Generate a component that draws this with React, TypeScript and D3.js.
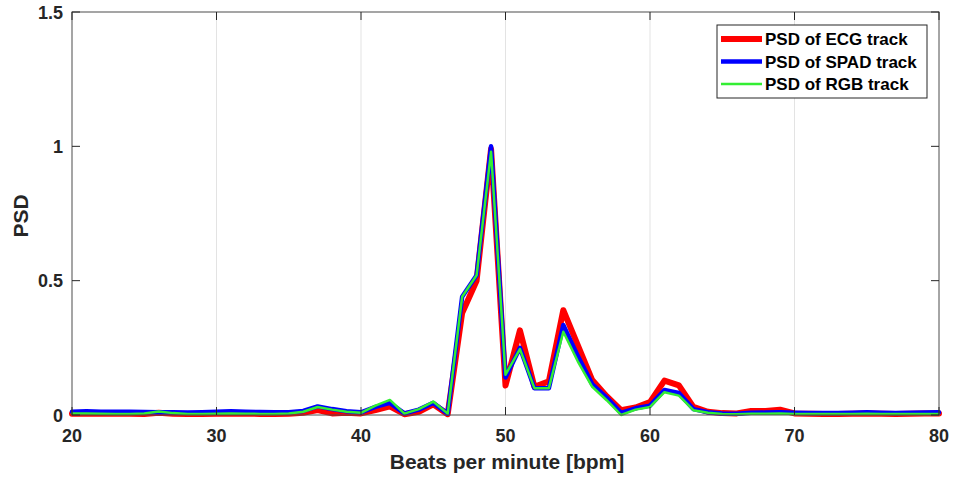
import React from "react";
import * as d3 from "d3";

const bpm = d3.range(20, 81);
const ecg = [0.005,0.006,0.005,0.005,0.005,0.004,0.008,0.005,0.004,0.004,0.005,0.006,0.005,0.004,0.004,0.005,0.008,0.018,0.006,0.008,0.006,0.018,0.032,0.003,0.012,0.04,0.003,0.38,0.5,0.99,0.11,0.315,0.105,0.125,0.39,0.26,0.13,0.07,0.018,0.028,0.048,0.128,0.11,0.03,0.012,0.007,0.006,0.015,0.015,0.02,0.006,0.005,0.004,0.004,0.005,0.006,0.005,0.004,0.005,0.006,0.006];
const spad = [0.012,0.014,0.012,0.012,0.012,0.011,0.01,0.01,0.009,0.01,0.012,0.014,0.012,0.011,0.01,0.01,0.015,0.032,0.022,0.014,0.01,0.03,0.045,0.006,0.02,0.045,0.005,0.44,0.52,1.0,0.14,0.25,0.1,0.1,0.335,0.22,0.115,0.065,0.008,0.025,0.035,0.093,0.082,0.022,0.01,0.006,0.005,0.008,0.009,0.01,0.008,0.007,0.007,0.007,0.008,0.01,0.008,0.007,0.008,0.009,0.01];
const rgb = [0.006,0.006,0.005,0.004,0.004,0.006,0.013,0.007,0.004,0.004,0.005,0.006,0.005,0.004,0.004,0.006,0.012,0.03,0.02,0.012,0.008,0.035,0.056,0.005,0.022,0.05,0.005,0.44,0.52,0.98,0.15,0.245,0.1,0.1,0.31,0.2,0.105,0.055,0.0,0.02,0.03,0.085,0.072,0.018,0.008,0.004,0.003,0.005,0.005,0.006,0.004,0.004,0.004,0.004,0.004,0.005,0.004,0.004,0.004,0.004,0.004];
const xTicks = [20, 30, 40, 50, 60, 70, 80];
const yTicks = [0, 0.5, 1, 1.5];
const seriesNames = ["PSD of ECG track", "PSD of SPAD track", "PSD of RGB track"];
const seriesColors = ["#ff0000", "#0000ff", "#33ee33"];
const seriesWidths = [6, 4.5, 2.5];

export default function App() {
  const W = 954, H = 479;
  const L = 72, R = 939, T = 12, B = 415;
  const x = d3.scaleLinear().domain([20, 80]).range([L, R]);
  const y = d3.scaleLinear().domain([0, 1.5]).range([B, T]);
  const all = [ecg, spad, rgb];
  const line = (vals: number[]) =>
    d3.line<number>().x((_, i) => x(bpm[i])).y((d) => y(d))(vals) || "";
  const font = "'Liberation Sans', Arial, sans-serif";
  const axisColor = "#262626";
  return (
    <svg width={W} height={H} style={{ position: "absolute", left: 0, top: 0, background: "#fff" }}>
      <rect x={0} y={0} width={W} height={H} fill="#fff" />
      {xTicks.slice(1, -1).map((t) => (
        <line key={t} x1={x(t)} x2={x(t)} y1={T} y2={B} stroke="#e3e3e3" strokeWidth={1} />
      ))}
      {all.map((vals, k) => (
        <path key={k} d={line(vals)} fill="none" stroke={seriesColors[k]} strokeWidth={seriesWidths[k]} strokeLinejoin="round" strokeLinecap="round" />
      ))}
      <rect x={L} y={T} width={R - L} height={B - T} fill="none" stroke="#4d4d4d" strokeWidth={1} />
      {xTicks.map((t) => (
        <g key={t}>
          <line x1={x(t)} x2={x(t)} y1={B} y2={B - 8} stroke={axisColor} />
          <line x1={x(t)} x2={x(t)} y1={T} y2={T + 8} stroke={axisColor} />
          <text x={x(t)} y={442} textAnchor="middle" fontFamily={font} fontWeight="bold" fontSize={18} fill={axisColor}>{t}</text>
        </g>
      ))}
      {yTicks.map((t) => (
        <g key={t}>
          <line x1={L} x2={L + 8} y1={y(t)} y2={y(t)} stroke={axisColor} />
          <line x1={R} x2={R - 8} y1={y(t)} y2={y(t)} stroke={axisColor} />
          <text x={63} y={y(t) + 6.5} textAnchor="end" fontFamily={font} fontWeight="bold" fontSize={18} fill={axisColor}>{t}</text>
        </g>
      ))}
      <text x={507} y={469} textAnchor="middle" fontFamily={font} fontWeight="bold" fontSize={21} fill={axisColor}>Beats per minute [bpm]</text>
      <text transform={`translate(28,216) rotate(-90)`} textAnchor="middle" fontFamily={font} fontWeight="bold" fontSize={21} fill={axisColor}>PSD</text>
      <rect x={717} y={25} width={210} height={73} fill="#fff" stroke="#262626" strokeWidth={1} />
      {seriesNames.map((n, k) => (
        <g key={n}>
          <line x1={721} x2={762} y1={39 + k * 22.5} y2={39 + k * 22.5} stroke={seriesColors[k]} strokeWidth={seriesWidths[k]} />
          <text x={765} y={39 + k * 22.5 + 6} fontFamily={font} fontWeight="bold" fontSize={17} fill="#000">{n}</text>
        </g>
      ))}
    </svg>
  );
}
